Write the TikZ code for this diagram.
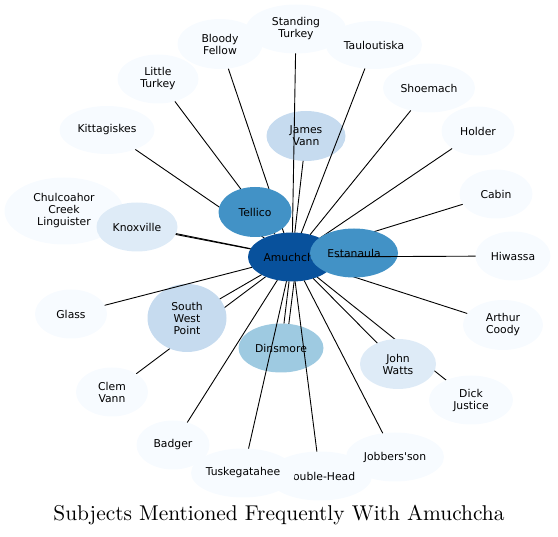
\documentclass[tikz,border=0pt]{standalone}
\usepackage{fontspec}
\usetikzlibrary{shapes.geometric}
\newfontfamily\labelfont{DejaVu Sans}
\newfontfamily\titlefont{lmroman10-regular.otf}
\definecolor{bluesA}{HTML}{F7FBFF}
\definecolor{bluesB}{HTML}{DEEBF7}
\definecolor{bluesC}{HTML}{C6DBEF}
\definecolor{bluesD}{HTML}{9ECAE1}
\definecolor{bluesE}{HTML}{4292C6}
\definecolor{bluesF}{HTML}{08519C}
\pgfdeclarelayer{background}
\pgfsetlayers{background,main}
\newcommand{\titlesize}{\titlefont\fontsize{21.4}{25}\selectfont}

\begin{document}
\begin{tikzpicture}[x=1pt,y=-1pt,
  subject/.style={ellipse,inner sep=-15pt,outer sep=0pt,align=center,minimum height=49,
    font=\labelfont\fontsize{10.8}{12}\selectfont},
  link/.style={draw=black,line width=0.9pt}]
 \useasboundingbox (0,0) rectangle (558,537);
 \node[subject,fill=bluesA,minimum width=100] (standing) at (296,29) {Standing\\Turkey};
 \node[subject,fill=bluesA,minimum width=85,minimum height=50] (bloody) at (220,44) {Bloody\\Fellow};
 \node[subject,fill=bluesA,minimum width=96,minimum height=48] (tauloutiska) at (374,45) {Tauloutiska};
 \node[subject,fill=bluesA,minimum width=81] (littleturkey) at (158,79) {Little\\Turkey};
 \node[subject,fill=bluesA,minimum width=95,minimum height=48] (kittagiskes) at (107,130) {Kittagiskes};
 \node[subject,fill=bluesA,minimum width=119,minimum height=67] (chulcoahor) at (64,211) {Chulcoahor\\Creek\\Linguister};
 \node[subject,fill=bluesB,minimum width=81] (knoxville) at (137,227) {Knoxville};
 \node[subject,fill=bluesC,minimum width=79,minimum height=50] (jamesvann) at (306,136) {James\\Vann};
 \node[subject,fill=bluesA,minimum width=92] (shoemach) at (429,88) {Shoemach};
 \node[subject,fill=bluesA,minimum width=73] (holder) at (478,131) {Holder};
 \node[subject,fill=bluesA,minimum width=73] (cabin) at (496,194) {Cabin};
 \node[subject,fill=bluesA,minimum width=75] (hiwassa) at (513,256) {Hiwassa};
 \node[subject,fill=bluesE,minimum width=73,minimum height=50] (tellico) at (255,212) {Tellico};
 \node[subject,fill=bluesF,minimum width=88] (amuchcha) at (292,257) {Amuchcha};
 \node[subject,fill=bluesE,minimum width=88] (estanaula) at (354,253) {Estanaula};
 \node[subject,fill=bluesA,minimum width=80,minimum height=50] (arthurcoody) at (503,325) {Arthur\\Coody};
 \node[subject,fill=bluesA,minimum width=72] (glass) at (71,314) {Glass};
 \node[subject,fill=bluesC,minimum width=79,minimum height=68] (southwest) at (187,318) {South\\West\\Point};
 \node[subject,fill=bluesD,minimum width=85] (dinsmore) at (281,348) {Dinsmore};
 \node[subject,fill=bluesB,minimum width=76,minimum height=50] (johnwatts) at (398,364) {John\\Watts};
 \node[subject,fill=bluesA,minimum width=84] (dickjustice) at (471,400) {Dick\\Justice};
 \node[subject,fill=bluesA,minimum width=72] (clemvann) at (112,392) {Clem\\Vann};
 \node[subject,fill=bluesA,minimum width=73] (badger) at (173,445) {Badger};
 \node[subject,fill=bluesA,minimum width=98] (jobbersson) at (395,457) {Jobbers'son};
 \node[subject,fill=bluesA,minimum width=104] (doublehead) at (320,476) {Double-Head};
 \node[subject,fill=bluesA,minimum width=104] (tuskegatahee) at (243,473) {Tuskegatahee};
 \node[font=\titlesize,anchor=base] (title) at (279,521) {Subjects Mentioned Frequently With Amuchcha};

 \path[link] (amuchcha) edge (standing) edge (tauloutiska) edge (jamesvann)
   edge (shoemach) edge (hiwassa) edge (knoxville) edge (glass) edge (southwest)
   edge (dinsmore) edge (badger) edge (tuskegatahee) edge (doublehead)
   edge (jobbersson) edge (johnwatts);
 \path[link] (amuchcha.275) edge (dinsmore.72);
 \begin{pgfonlayer}{background}
 \path[link] (amuchcha) edge (littleturkey) edge (bloody) edge (kittagiskes)
   edge (chulcoahor) edge (clemvann) edge (dickjustice) edge (holder)
   edge (cabin) edge (arthurcoody);
 \end{pgfonlayer}
\end{tikzpicture}
\end{document}
